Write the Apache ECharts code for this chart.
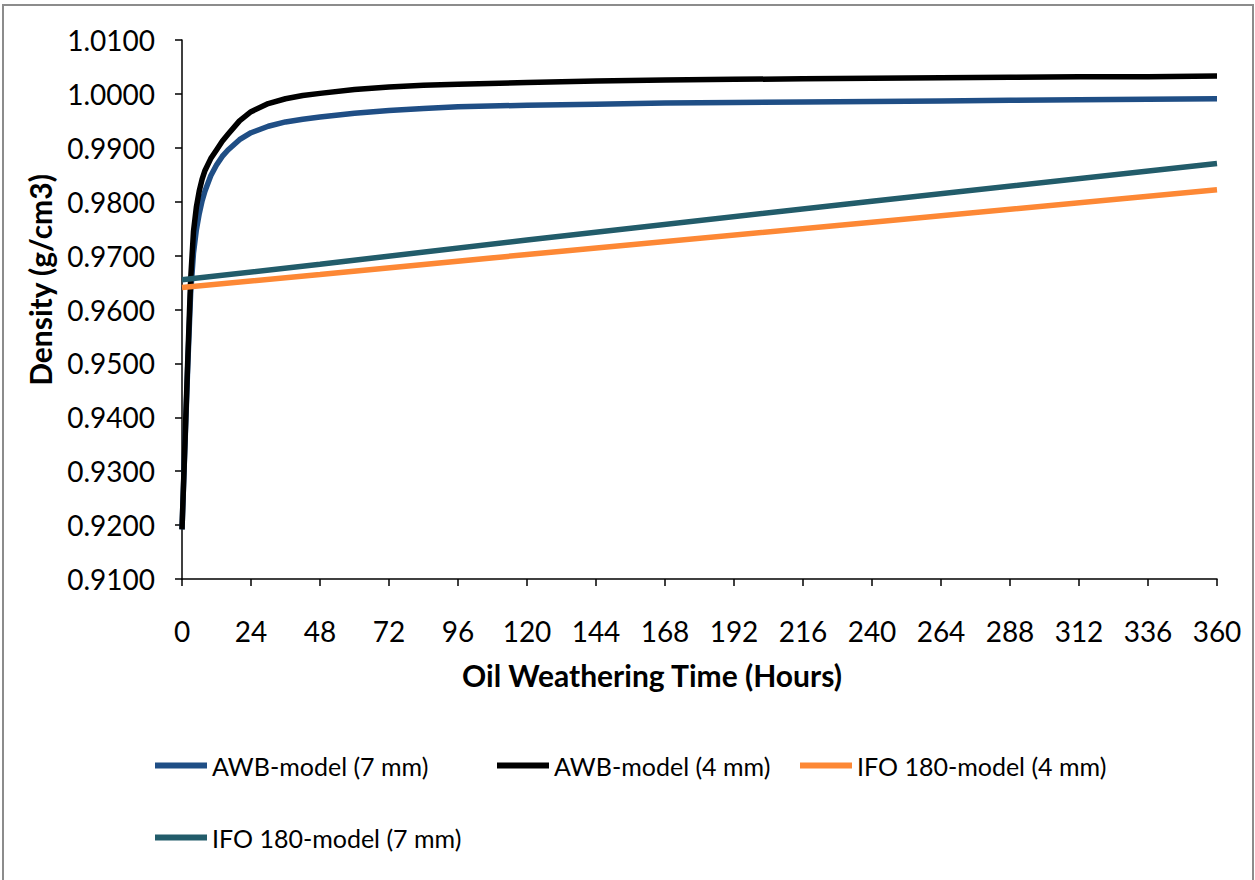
<!DOCTYPE html>
<html>
<head>
<meta charset="utf-8">
<script src="https://cdn.jsdelivr.net/npm/echarts@6/dist/echarts.min.js"></script>
<style>
html,body{margin:0;padding:0;background:#fff;}
#c{width:1255px;height:880px;}
</style>
</head>
<body>
<div id="c"></div>
<script>
// ---- data ----
var seriesNames = ['AWB-model (7 mm)', 'AWB-model (4 mm)', 'IFO 180-model (4 mm)', 'IFO 180-model (7 mm)'];
var xTicks = [0, 24, 48, 72, 96, 120, 144, 168, 192, 216, 240, 264, 288, 312, 336, 360];
var xTitle = 'Oil Weathering Time (Hours)';
var yTitle = 'Density (g/cm3)';

var awbHours = [0, 1, 2, 3, 4, 5, 6, 7, 8, 10, 12, 14, 16, 20, 24, 30, 36, 42, 48, 60, 72, 84, 96, 120, 144, 168, 192, 216, 240, 264, 288, 312, 336, 360];
var awb7 = [0.9192, 0.9345, 0.9495, 0.9630, 0.9705, 0.9748, 0.9778, 0.9802, 0.9820, 0.9848, 0.9868, 0.9884, 0.9896, 0.9915, 0.9928, 0.9940, 0.9948, 0.9953, 0.9957, 0.9964, 0.9969, 0.9973, 0.9976, 0.9979, 0.9981, 0.9983, 0.9984, 0.9985, 0.9986, 0.9987, 0.9988, 0.9989, 0.9990, 0.9991];
var awb4 = [0.9192, 0.9349, 0.9506, 0.9655, 0.9745, 0.9790, 0.9820, 0.9842, 0.9858, 0.9880, 0.9896, 0.9912, 0.9925, 0.9950, 0.9967, 0.9982, 0.9991, 0.9997, 1.0001, 1.0008, 1.0013, 1.0016, 1.0018, 1.0021, 1.0024, 1.0026, 1.0027, 1.0028, 1.0029, 1.0030, 1.0031, 1.0032, 1.0032, 1.0033];

var ifoHours = [0, 48, 120, 240, 360];
var ifo4 = [0.9641, 0.9665, 0.9702, 0.9762, 0.9822];
var ifo7 = [0.9655, 0.9684, 0.9729, 0.9801, 0.9871];

var colors = ['#1F4E85', '#000000', '#FD8835', '#225C6A'];

function pairs(xs, ys){ var out=[]; for(var i=0;i<xs.length;i++) out.push([xs[i], ys[i]]); return out; }

var FONT = 'Lato, "Open Sans", sans-serif';

var chart = echarts.init(document.getElementById('c'), null, {renderer:'svg'});

function legendAt(name, left, top){
  return {
    data:[name], left:left, top:top, orient:'horizontal', padding:0,
    icon:'rect', itemWidth:52, itemHeight:6,
    textStyle:{fontFamily:FONT, fontSize:25, color:'#000'}
  };
}

var option = {
  animation:false,
  backgroundColor:'#fff',
  graphic:[
    {type:'rect', shape:{x:3, y:5, width:1250, height:880}, style:{fill:'none', stroke:'#8c8c8c', lineWidth:2}, silent:true},
    {type:'text', x:40, y:280, rotation:Math.PI/2,
     style:{text:yTitle, fontFamily:FONT, fontWeight:'bold', fontSize:30, fill:'#000', align:'center', verticalAlign:'middle'}},
    {type:'text', x:652, y:675,
     style:{text:xTitle, fontFamily:FONT, fontWeight:'bold', fontSize:30, fill:'#000', align:'center', verticalAlign:'middle'}}
  ],
  grid:{left:182, top:40, right:38, bottom:301, containLabel:false},
  legend:[
    legendAt(seriesNames[0], 155, 753),
    legendAt(seriesNames[1], 497, 753),
    legendAt(seriesNames[2], 800, 753),
    legendAt(seriesNames[3], 155, 825)
  ],
  xAxis:{
    type:'value', min:0, max:360, interval:24,
    axisLine:{show:true, lineStyle:{color:'#000', width:1.5}},
    axisTick:{show:true, length:7, lineStyle:{color:'#000', width:1.5}},
    axisLabel:{margin:38, fontFamily:FONT, fontSize:28, color:'#000'},
    splitLine:{show:false}
  },
  yAxis:{
    type:'value', min:0.91, max:1.01, interval:0.01,
    axisLine:{show:true, lineStyle:{color:'#000', width:1.5}},
    axisTick:{show:true, length:7, lineStyle:{color:'#000', width:1.5}},
    axisLabel:{margin:27, fontFamily:FONT, fontSize:28, color:'#000', formatter:function(v){return v.toFixed(4);}},
    splitLine:{show:false}
  },
  series:[
    {name:seriesNames[0], type:'line', data:pairs(awbHours, awb7), showSymbol:false, smooth:false, lineStyle:{width:5.5, color:colors[0], join:'round'}, itemStyle:{color:colors[0]}},
    {name:seriesNames[1], type:'line', data:pairs(awbHours, awb4), showSymbol:false, smooth:false, lineStyle:{width:5.5, color:colors[1], join:'round'}, itemStyle:{color:colors[1]}},
    {name:seriesNames[2], type:'line', data:pairs(ifoHours, ifo4), showSymbol:false, lineStyle:{width:5.5, color:colors[2]}, itemStyle:{color:colors[2]}},
    {name:seriesNames[3], type:'line', data:pairs(ifoHours, ifo7), showSymbol:false, lineStyle:{width:5.5, color:colors[3]}, itemStyle:{color:colors[3]}}
  ]
};
chart.setOption(option);
</script>
</body>
</html>
